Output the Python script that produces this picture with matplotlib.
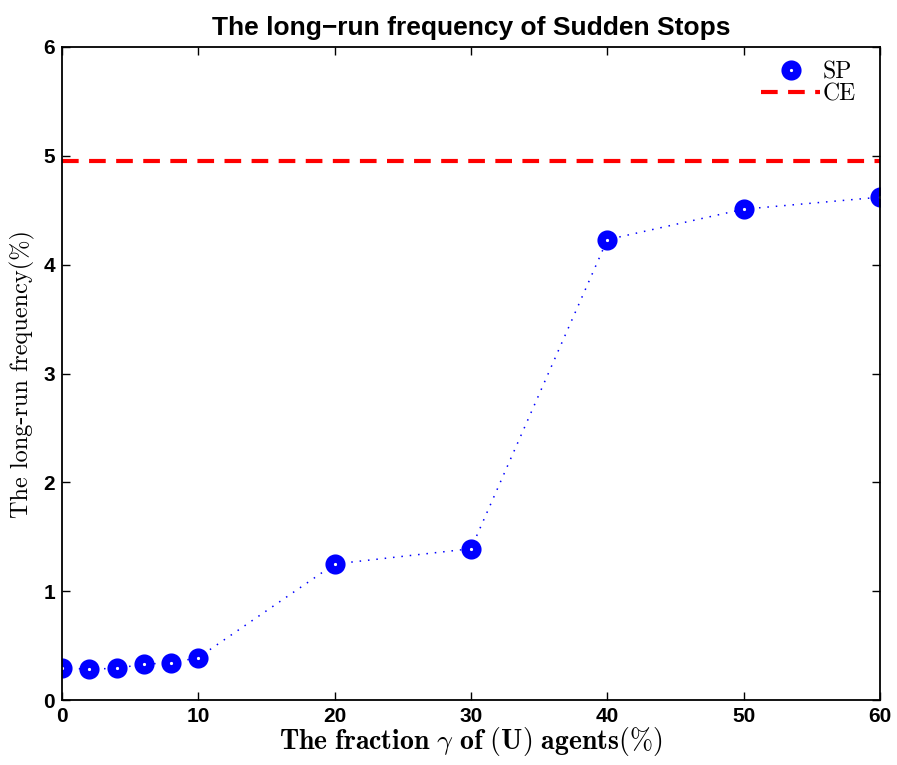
import matplotlib
matplotlib.use("Agg")
import matplotlib.pyplot as plt

plt.rcParams["mathtext.fontset"] = "cm"
plt.rcParams["font.family"] = ["Liberation Sans", "DejaVu Sans"]

gamma = [0, 2, 4, 6, 8, 10, 20, 30, 40, 50, 60]
sp_freq = [0.29, 0.285, 0.29, 0.33, 0.34, 0.39, 1.25, 1.39, 4.23, 4.51, 4.62]
ce_freq = 4.95

fig = plt.figure(figsize=(8.97, 7.65), dpi=100)
ax = fig.add_axes([62 / 897, 65 / 765, 818 / 897, 653 / 765])

# dotted connecting line, then markers only (legend shows marker only)
ax.plot(gamma, sp_freq, c="blue", lw=1.1, ls=(0, (1, 4.5)))
ax.plot(gamma, sp_freq, ls="none", marker="o", ms=8.5, mfc="white",
        mec="blue", mew=6, label="SP")
ax.axhline(ce_freq, c="red", ls="--", lw=3, dashes=(4, 2.5), label="CE")

ax.set_xlim(0, 60)
ax.set_ylim(0, 6)
ax.set_xticks([0, 10, 20, 30, 40, 50, 60])
ax.set_yticks([0, 1, 2, 3, 4, 5, 6])
ax.tick_params(direction="in", top=True, right=True, length=6, width=1,
               labelsize=15, pad=5)
for lab in ax.get_xticklabels() + ax.get_yticklabels():
    lab.set_fontweight("bold")
for s in ax.spines.values():
    s.set_linewidth(1.3)

ax.set_title("The long\u2212run frequency of Sudden Stops", fontsize=19,
             fontweight="bold", pad=9)
ax.set_xlabel(r"$\mathbf{The\ fraction}\ \gamma\ \mathbf{of\ (U)\ agents(\%)}$",
              fontsize=20, labelpad=-1)
ax.set_ylabel("The long-run frequency(%)", family="cmr10", fontsize=17.5,
              labelpad=6)

leg = ax.legend(loc="upper right", bbox_to_anchor=(0.982, 0.993), frameon=False,
                prop={"family": "cmr10", "size": 17},
                handlelength=2.5, borderaxespad=0.2, labelspacing=0.0,
                handletextpad=0.1, borderpad=0.2)

fig.savefig("out.png", dpi=100)
